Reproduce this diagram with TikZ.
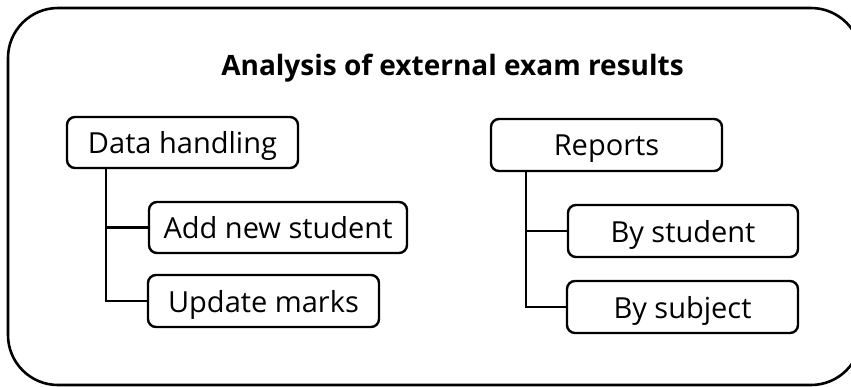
\documentclass[tikz,border=0pt]{standalone}
\usepackage{fontspec}
\setmainfont{Open Sans}
\begin{document}
\begin{tikzpicture}[x=1pt,y=-1pt,
  box/.style={draw, line width=2.4pt, rounded corners=8pt, inner sep=0pt,
    font=\fontsize{29}{34}\selectfont, text depth=0pt},
  conn/.style={line width=2.4pt},
  frame/.style={line width=2.6pt, rounded corners=50pt}]
\useasboundingbox (0,0) rectangle (851,386);
\begin{scope}
\clip (0,0) rectangle (851,386);
\draw[frame] (8,8) rectangle (861,385);
\end{scope}
\node[font=\bfseries\fontsize{28}{33}\selectfont, anchor=base] (title) at (452.5,75) {Analysis of external exam results};
\node[box, minimum width=231pt, minimum height=51pt] (dh) at (182.5,142.5) {Data handling};
\node[box, minimum width=258pt, minimum height=51pt] (ans) at (278,227.5) {Add new student};
\node[box, minimum width=231pt, minimum height=52pt] (um) at (263.5,301) {Update marks};
\node[box, minimum width=231pt, minimum height=52pt] (rep) at (606.5,145) {Reports};
\node[box, minimum width=230pt, minimum height=52pt] (bst) at (683,231) {By student};
\node[box, minimum width=231pt, minimum height=52pt] (bsu) at (682.5,307) {By subject};
\coordinate (dhs) at ([xshift=40pt]dh.south west);
\coordinate (reps) at ([xshift=36pt]rep.south west);
\draw[conn] (dhs) |- (ans.west);
\draw[conn] (dhs) |- (um.west);
\draw[conn] (reps) |- (bst.west);
\draw[conn] (reps) |- (bsu.west);
\end{tikzpicture}
\end{document}
